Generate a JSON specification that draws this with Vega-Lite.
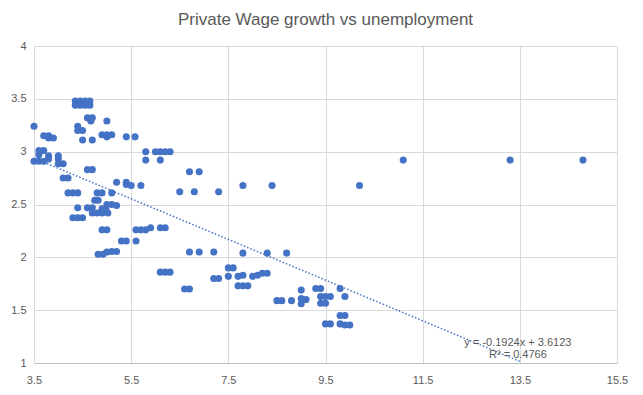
{
  "$schema": "https://vega.github.io/schema/vega-lite/v6.json",
  "autosize": {"type": "none"},
  "width": 583,
  "height": 317,
  "padding": {"left": 34, "top": 46, "right": 26, "bottom": 32},
  "background": "white",
  "config": {
    "view": {"stroke": null},
    "font": "Liberation Sans",
    "axis": {"labelColor": "#595959", "labelFontSize": 11, "gridColor": "#d9d9d9", "ticks": false, "title": null}
  },
  "title": {"text": "Private Wage growth vs unemployment", "fontSize": 17, "fontWeight": "normal", "color": "#595959", "offset": 11, "anchor": "middle"},
  "datasets": {
    "pts": [
      {"u":3.5,"w":3.24},
      {"u":3.7,"w":3.15},{"u":3.8,"w":3.15},{"u":3.8,"w":3.13},{"u":3.9,"w":3.13},
      {"u":3.6,"w":3.01},{"u":3.7,"w":3.01},{"u":3.6,"w":2.97},
      {"u":3.8,"w":2.96},{"u":3.8,"w":2.93},
      {"u":3.5,"w":2.91},{"u":3.6,"w":2.91},{"u":3.7,"w":2.91},
      {"u":4.0,"w":2.96},{"u":4.0,"w":2.93},
      {"u":4.0,"w":2.885},{"u":4.1,"w":2.885},
      {"u":4.1,"w":2.75},{"u":4.2,"w":2.75},
      {"u":4.2,"w":2.61},{"u":4.3,"w":2.61},{"u":4.4,"w":2.61},
      {"u":4.4,"w":2.47},
      {"u":4.3,"w":2.375},{"u":4.4,"w":2.375},{"u":4.5,"w":2.375},
      {"u":4.35,"w":3.48},{"u":4.45,"w":3.48},{"u":4.55,"w":3.48},{"u":4.65,"w":3.48},
      {"u":4.35,"w":3.44},{"u":4.45,"w":3.44},{"u":4.55,"w":3.44},{"u":4.65,"w":3.44},
      {"u":4.6,"w":3.32},{"u":4.7,"w":3.32},{"u":4.67,"w":3.29},{"u":5.0,"w":3.29},
      {"u":4.4,"w":3.24},{"u":4.4,"w":3.2},{"u":4.5,"w":3.2},
      {"u":4.5,"w":3.11},{"u":4.7,"w":3.11},
      {"u":4.9,"w":3.16},{"u":5.0,"w":3.16},{"u":5.1,"w":3.16},{"u":5.0,"w":3.14},
      {"u":5.4,"w":3.14},{"u":5.58,"w":3.14},
      {"u":4.6,"w":2.83},{"u":4.7,"w":2.83},
      {"u":5.2,"w":2.71},{"u":5.4,"w":2.71},{"u":5.4,"w":2.69},{"u":5.5,"w":2.68},{"u":5.7,"w":2.68},
      {"u":4.8,"w":2.61},{"u":4.9,"w":2.61},{"u":5.1,"w":2.61},
      {"u":4.75,"w":2.54},{"u":4.82,"w":2.54},
      {"u":4.6,"w":2.47},{"u":4.7,"w":2.47},
      {"u":5.0,"w":2.5},{"u":5.1,"w":2.5},{"u":5.2,"w":2.49},
      {"u":4.7,"w":2.42},{"u":4.8,"w":2.42},{"u":4.9,"w":2.42},{"u":4.98,"w":2.45},{"u":5.02,"w":2.42},{"u":4.9,"w":2.46},
      {"u":4.9,"w":2.26},{"u":5.0,"w":2.26},
      {"u":5.3,"w":2.155},{"u":5.4,"w":2.155},{"u":5.6,"w":2.155},
      {"u":4.82,"w":2.03},{"u":4.92,"w":2.03},{"u":5.0,"w":2.05},{"u":5.1,"w":2.055},{"u":5.2,"w":2.055},
      {"u":5.6,"w":2.26},{"u":5.7,"w":2.26},{"u":5.8,"w":2.26},{"u":5.9,"w":2.28},{"u":6.1,"w":2.28},{"u":6.2,"w":2.28},
      {"u":5.8,"w":3.0},{"u":6.0,"w":3.0},{"u":6.1,"w":3.0},{"u":6.2,"w":3.0},{"u":6.3,"w":3.0},
      {"u":5.8,"w":2.92},{"u":6.1,"w":2.92},
      {"u":6.7,"w":2.81},{"u":6.9,"w":2.81},
      {"u":6.5,"w":2.62},{"u":6.8,"w":2.62},{"u":7.3,"w":2.62},
      {"u":7.8,"w":2.68},{"u":8.4,"w":2.68},{"u":10.2,"w":2.68},
      {"u":11.1,"w":2.92},{"u":13.3,"w":2.92},{"u":14.8,"w":2.92},
      {"u":6.7,"w":2.05},{"u":6.9,"w":2.05},{"u":7.2,"w":2.05},
      {"u":7.8,"w":2.04},{"u":8.3,"w":2.04},{"u":8.7,"w":2.04},
      {"u":6.1,"w":1.86},{"u":6.2,"w":1.86},{"u":6.3,"w":1.86},
      {"u":7.5,"w":1.9},{"u":7.6,"w":1.9},{"u":7.5,"w":1.82},{"u":7.7,"w":1.82},{"u":7.8,"w":1.83},
      {"u":7.2,"w":1.8},{"u":7.3,"w":1.8},
      {"u":7.7,"w":1.73},{"u":7.8,"w":1.73},{"u":7.9,"w":1.73},
      {"u":6.6,"w":1.7},{"u":6.7,"w":1.7},
      {"u":8.0,"w":1.82},{"u":8.1,"w":1.83},{"u":8.2,"w":1.85},{"u":8.3,"w":1.85},
      {"u":8.5,"w":1.59},{"u":8.6,"w":1.59},{"u":8.8,"w":1.59},
      {"u":9.0,"w":1.69},{"u":9.0,"w":1.61},{"u":9.1,"w":1.6},{"u":9.0,"w":1.56},
      {"u":9.3,"w":1.705},{"u":9.4,"w":1.705},{"u":9.8,"w":1.705},
      {"u":9.4,"w":1.63},{"u":9.5,"w":1.63},{"u":9.6,"w":1.63},{"u":9.4,"w":1.565},{"u":9.5,"w":1.565},
      {"u":9.9,"w":1.63},
      {"u":9.8,"w":1.45},{"u":9.9,"w":1.45},
      {"u":9.5,"w":1.37},{"u":9.6,"w":1.37},{"u":9.8,"w":1.37},{"u":9.9,"w":1.36},{"u":10.0,"w":1.36}
    ],
    "trend": [
      {"u": 3.5, "w": 2.9389},
      {"u": 13.5, "w": 1.0149}
    ],
    "eq": [
      {"u": 13.46, "w": 1.19, "t": "y = -0.1924x + 3.6123"},
      {"u": 13.46, "w": 1.077, "t": "R² = 0.4766"}
    ]
  },
  "layer": [
    {
      "data": {"name": "pts"},
      "mark": {"type": "point", "filled": true, "size": 50, "color": "#4472C4", "opacity": 1},
      "encoding": {
        "x": {"field": "u", "type": "quantitative", "scale": {"domain": [3.5, 15.5], "nice": false, "zero": false},
              "axis": {"values": [3.5, 5.5, 7.5, 9.5, 11.5, 13.5, 15.5], "format": ".1f", "labelPadding": 11, "domainColor": "#bfbfbf", "labelFlush": false}},
        "y": {"field": "w", "type": "quantitative", "scale": {"domain": [1, 4], "nice": false, "zero": false},
              "axis": {"values": [1, 1.5, 2, 2.5, 3, 3.5, 4], "format": ".2~f", "labelPadding": 8, "domain": false}}
      }
    },
    {
      "data": {"name": "trend"},
      "mark": {"type": "line", "color": "#4472C4", "strokeWidth": 1.5, "strokeDash": [1.5, 2], "clip": true},
      "encoding": {
        "x": {"field": "u", "type": "quantitative"},
        "y": {"field": "w", "type": "quantitative"}
      }
    },
    {
      "data": {"name": "eq"},
      "mark": {"type": "text", "fontSize": 11, "color": "#595959", "align": "center", "baseline": "middle"},
      "encoding": {
        "x": {"field": "u", "type": "quantitative"},
        "y": {"field": "w", "type": "quantitative"},
        "text": {"field": "t"}
      }
    }
  ]
}
